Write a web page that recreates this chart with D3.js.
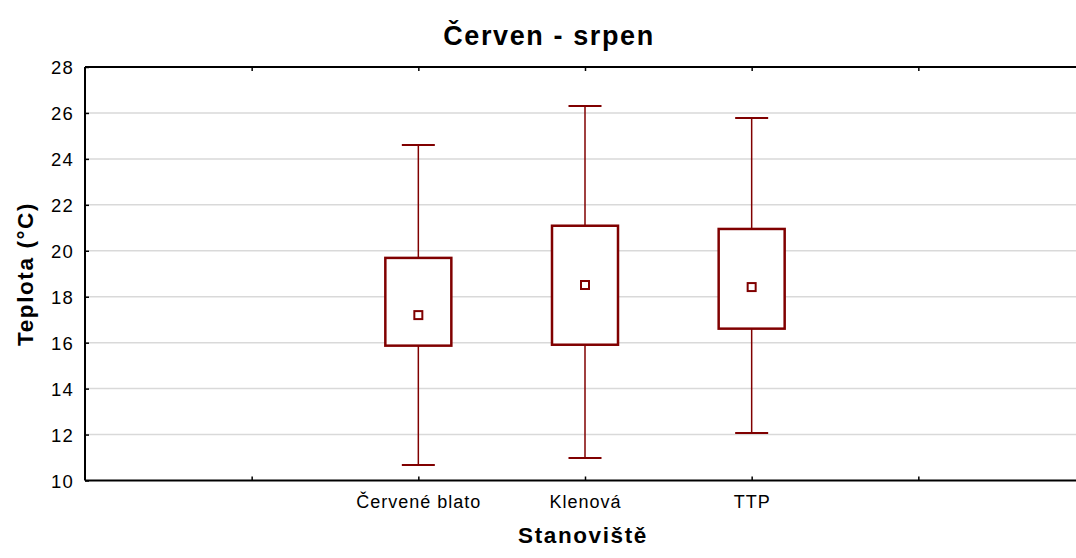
<!DOCTYPE html>
<html><head><meta charset="utf-8">
<script src="https://cdn.jsdelivr.net/npm/d3@7"></script>
<style>body{margin:0;background:#fff}svg{display:block}text{font-family:"Liberation Sans",Arial,sans-serif}</style>
</head><body>
<svg id="c" width="1076" height="558"></svg>
<script>
const slots = ["", "Červené blato", "Klenová", "TTP", " "];
const categories = ["Červené blato", "Klenová", "TTP"];
const whiskerLow = [10.67, 10.98, 12.07];
const boxLow = [15.87, 15.91, 16.61];
const mean = [17.2, 18.51, 18.42];
const boxHigh = [19.69, 21.09, 20.95];
const whiskerHigh = [24.6, 26.3, 25.78];
const yTicks = [10, 12, 14, 16, 18, 20, 22, 24, 26, 28];
const title = "Červen - srpen";
const xTitle = "Stanoviště";
const yTitle = "Teplota (°C)";

const svg = d3.select("#c");
const L = 85, R = 1085, T = 67, B = 480.5;
const x = d3.scalePoint().domain(slots).range([L, R]).padding(1);
const y = d3.scaleLinear().domain([10, 28]).range([B, T]);
const red = "#800000";

// grid
svg.append("g").selectAll("line").data(yTicks.filter(d => d > 10 && d < 28)).join("line")
  .attr("x1", L).attr("x2", 1076).attr("y1", d => y(d)).attr("y2", d => y(d))
  .attr("stroke", "#d9d9d9").attr("stroke-width", 1.5);

// axes
const fmtX = d => d.trim();
const gB = svg.append("g").attr("transform", `translate(0,${B})`)
  .call(d3.axisBottom(x).tickSize(-4).tickPadding(0).tickFormat(fmtX));
const gT = svg.append("g").attr("transform", `translate(0,${T})`)
  .call(d3.axisTop(x).tickSize(-4).tickFormat(""));
const gL = svg.append("g").attr("transform", `translate(${L},0)`)
  .call(d3.axisLeft(y).tickValues(yTicks).tickSize(-4).tickPadding(0).tickFormat(d3.format("d")));
[gB, gT, gL].forEach(g => {
  g.select(".domain").attr("stroke", "#000").attr("stroke-width", 2);
  g.selectAll(".tick line").attr("stroke", "#000").attr("stroke-width", 1.5);
});
gB.select(".domain").attr("d", `M${L},0H1076`);
gT.select(".domain").attr("d", `M${L},0H1076`);
gL.select(".domain").attr("d", `M0,${T}V${B}`);
gB.selectAll(".tick text").attr("y", 0).attr("dy", 0).attr("transform", "translate(0,27)")
  .attr("font-size", 18).attr("fill", "#000").style("letter-spacing", "1px")
  .style("font-family", '"Liberation Sans",Arial,sans-serif');
gL.selectAll(".tick text").attr("x", -11).attr("dy", "0.36em")
  .attr("font-size", 18.5).attr("fill", "#000").style("letter-spacing", "1.2px")
  .style("font-family", '"Liberation Sans",Arial,sans-serif');

// boxes
const data = categories.map((c, i) => ({c, wl: whiskerLow[i], bl: boxLow[i], m: mean[i], bh: boxHigh[i], wh: whiskerHigh[i]}));
const bw = 66, cw = 33, mw = 8;
const g = svg.append("g").selectAll("g").data(data).join("g");
g.append("line").attr("x1", d => x(d.c)).attr("x2", d => x(d.c))
  .attr("y1", d => y(d.wh)).attr("y2", d => y(d.bh)).attr("stroke", red).attr("stroke-width", 1.5);
g.append("line").attr("x1", d => x(d.c)).attr("x2", d => x(d.c))
  .attr("y1", d => y(d.bl)).attr("y2", d => y(d.wl)).attr("stroke", red).attr("stroke-width", 1.5);
g.append("line").attr("x1", d => x(d.c) - cw / 2).attr("x2", d => x(d.c) + cw / 2)
  .attr("y1", d => y(d.wh)).attr("y2", d => y(d.wh)).attr("stroke", red).attr("stroke-width", 2);
g.append("line").attr("x1", d => x(d.c) - cw / 2).attr("x2", d => x(d.c) + cw / 2)
  .attr("y1", d => y(d.wl)).attr("y2", d => y(d.wl)).attr("stroke", red).attr("stroke-width", 2);
g.append("rect").attr("x", d => x(d.c) - bw / 2).attr("width", bw)
  .attr("y", d => y(d.bh)).attr("height", d => y(d.bl) - y(d.bh))
  .attr("fill", "#fff").attr("stroke", red).attr("stroke-width", 2.5);
g.append("rect").attr("x", d => x(d.c) - mw / 2).attr("width", mw)
  .attr("y", d => y(d.m) - mw / 2).attr("height", mw)
  .attr("fill", "#fff").attr("stroke", red).attr("stroke-width", 2);

// titles
svg.append("text").attr("x", 549).attr("y", 45).attr("text-anchor", "middle")
  .attr("font-size", 27).attr("font-weight", "bold").style("letter-spacing", "1.6px").text(title);
svg.append("text").attr("x", 583).attr("y", 543).attr("text-anchor", "middle")
  .attr("font-size", 22.5).attr("font-weight", "bold").style("letter-spacing", "1.6px").text(xTitle);
svg.append("text").attr("transform", "translate(33,274) rotate(-90)").attr("text-anchor", "middle")
  .attr("font-size", 22.5).attr("font-weight", "bold").style("letter-spacing", "1.6px").text(yTitle);
</script>
</body></html>
